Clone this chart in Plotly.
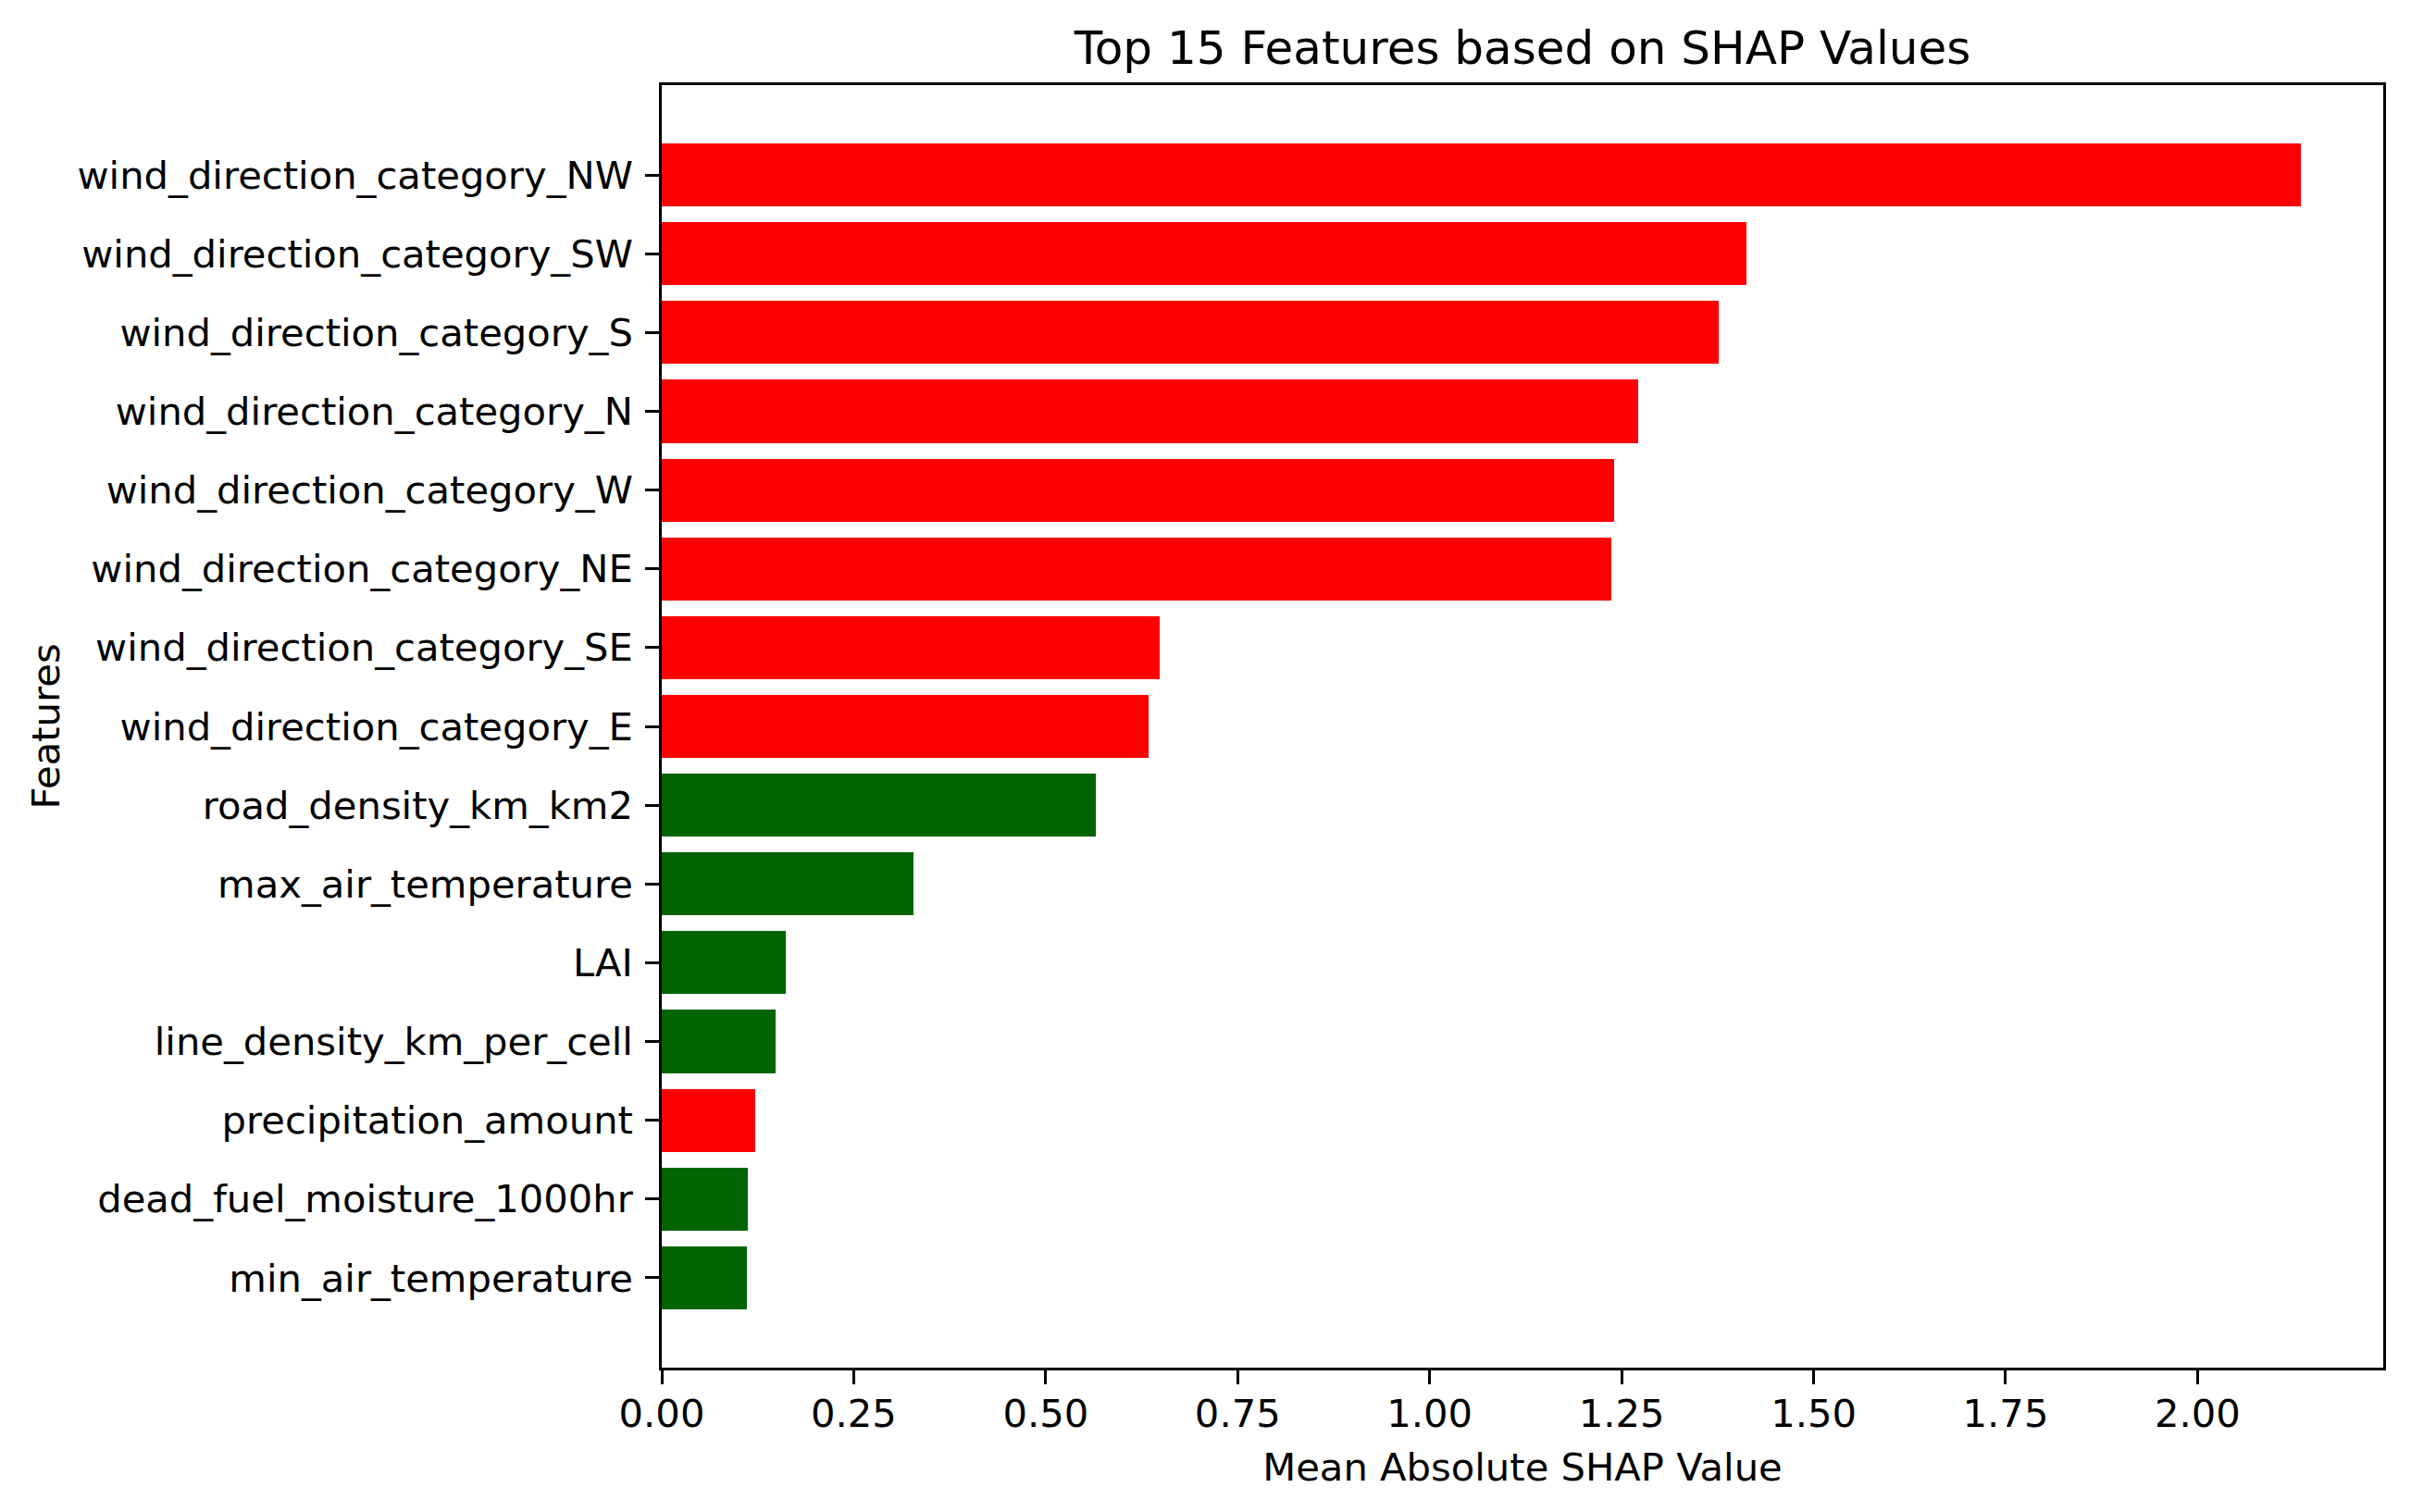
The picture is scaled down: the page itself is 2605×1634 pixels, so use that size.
import plotly.graph_objects as go

# features from bottom to top (same order as matplotlib barh)
features = [
    'min_air_temperature',
    'dead_fuel_moisture_1000hr',
    'precipitation_amount',
    'line_density_km_per_cell',
    'LAI',
    'max_air_temperature',
    'road_density_km_km2',
    'wind_direction_category_E',
    'wind_direction_category_SE',
    'wind_direction_category_NE',
    'wind_direction_category_W',
    'wind_direction_category_N',
    'wind_direction_category_S',
    'wind_direction_category_SW',
    'wind_direction_category_NW',
]
shap_values = [0.111, 0.112, 0.122, 0.148, 0.162, 0.328, 0.565, 0.634,
               0.649, 1.236, 1.240, 1.271, 1.376, 1.413, 2.135]
bar_colors = ['darkgreen', 'darkgreen', 'red', 'darkgreen', 'darkgreen',
              'darkgreen', 'darkgreen', 'red', 'red', 'red', 'red', 'red',
              'red', 'red', 'red']
x_ticks = [0, 0.25, 0.5, 0.75, 1.0, 1.25, 1.5, 1.75, 2.0]
x_tick_labels = ['0.00', '0.25', '0.50', '0.75', '1.00', '1.25', '1.50', '1.75', '2.00']

# page has an 8px body margin, so the figure is shrunk by that amount
W, H = 2605 - 8, 1634 - 8
FONT = 'DejaVu Sans'
FS = 41.7       # 10pt at 300 dpi
TICK = 14.6     # 3.5pt
LW = 3.3        # 0.8pt

fig = go.Figure()
fig.add_trace(go.Bar(
    x=shap_values,
    y=features,
    orientation='h',
    width=0.8,
    marker=dict(color=bar_colors, line=dict(width=0)),
    showlegend=False,
))

xmax = max(shap_values) * 1.05
n = len(features)

fig.update_layout(
    width=W, height=H,
    margin=dict(l=707, r=30, t=84, b=156, autoexpand=False),
    paper_bgcolor='white', plot_bgcolor='white',
    font=dict(family=FONT, size=FS, color='black'),
    title=dict(text='Top 15 Features based on SHAP Values',
               font=dict(size=50, color='black'),
               x=0.5, xref='paper', xanchor='center',
               y=1 - 43 / H, yref='container', yanchor='middle'),
    bargap=0,
)

fig.update_xaxes(
    range=[0, xmax],
    tickvals=x_ticks, ticktext=x_tick_labels,
    ticks='outside', ticklen=TICK, tickwidth=LW, tickcolor='black',
    showline=True, linecolor='black', linewidth=LW, mirror=True,
    showgrid=False, zeroline=False,
    tickfont=dict(size=FS),
    ticklabelstandoff=-4,
    title=dict(text='Mean Absolute SHAP Value', font=dict(size=FS), standoff=21),
)
fig.update_yaxes(
    type='category',
    range=[-1.14, n - 1 + 1.14],
    ticks='outside', ticklen=TICK, tickwidth=LW, tickcolor='black',
    showline=True, linecolor='black', linewidth=LW, mirror=True,
    showgrid=False, zeroline=False,
    tickfont=dict(size=FS),
    ticklabelstandoff=5,
    title=dict(text='Features', font=dict(size=FS), standoff=6),
)

fig.write_html('out.html')
